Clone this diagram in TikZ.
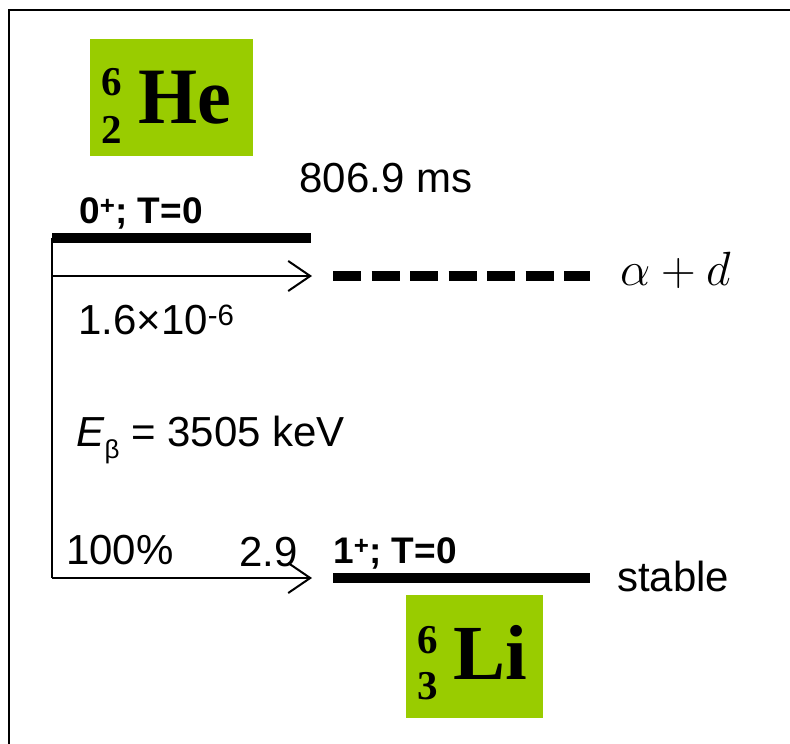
\documentclass[tikz,border=0pt]{standalone}
\usepackage{graphicx}
\usepackage{fontspec}
\setmainfont{Liberation Sans}
\newfontfamily\serifb{Liberation Serif}
\usetikzlibrary{arrows.meta}
\definecolor{nucgreen}{HTML}{99CC00}
\tikzset{
  level/.style={line width=9.5pt},
  thin/.style={line width=2pt},
  decay/.style={line width=2pt,-{Straight Barb[length=22pt,width=30pt,line width=2pt]}},
  txt/.style={inner sep=0pt,anchor=west,font=\fontsize{42}{46}\selectfont},
  btxt/.style={inner sep=0pt,anchor=west,font=\fontsize{37}{40}\selectfont\bfseries},
  nucbox/.style={fill=nucgreen,draw=none,inner sep=0pt},
  nucsym/.style={inner sep=0pt,anchor=base west,font=\fontsize{80}{80}\selectfont\serifb\bfseries},
  nucnum/.style={inner sep=0pt,font=\fontsize{41}{41}\selectfont\serifb\bfseries},
}
\begin{document}
\begin{tikzpicture}[x=1pt,y=-1pt]
\useasboundingbox (0,0) rectangle (790,744);
% frame
\draw[thin] (9,744) -- (9,10) -- (790,10);
% He box
\node[nucbox,minimum width=163pt,minimum height=117pt] (hebox) at (171.5,97.5) {};
\node[nucsym,xscale=0.95] (he) at (138,123) {He};
\node[nucnum] (he6) at (112,82) {6};
\node[nucnum] (he2) at (112,130) {2};
\node[txt,anchor=center] (life) at (386,178) {806.9 ms};
\node[btxt] (jtop) at (79,213) {0\textsuperscript{+}; T=0};
% levels
\coordinate (ltopL) at (52,238);
\coordinate (ltopR) at (311,238);
\draw[level] (ltopL) -- (ltopR);
\coordinate (a1s) at (52,276);
\coordinate (a1e) at (312,276);
\coordinate (a2s) at (52,578);
\coordinate (a2e) at (312,578);
\draw[thin] (ltopL) -- (a2s);
\draw[decay] (a1s) -- (a1e);
\draw[decay] (a2s) -- (a2e);
\coordinate (dL) at (333,276);
\coordinate (dR) at (590,276);
\draw[line width=10pt,dash pattern=on 28pt off 10.5pt] (dL) -- (dR);
\node[inner sep=0pt,anchor=west] (ad) at (620,270) {\scalebox{1.93}{\Huge$\alpha + d$}};
\node[txt] (br) at (78,320) {1.6×10\textsuperscript{-6}};
\node[txt] (eb) at (76,440) {\textit{E}\raisebox{-0.28em}{\fontsize{26}{26}\selectfont β} = 3505 keV};
\node[txt] (pc) at (66,550) {100\%};
\node[txt] (ft) at (239,552) {2.9};
\node[btxt] (jbot) at (333,553) {1\textsuperscript{+}; T=0};
\coordinate (lbL) at (333,578);
\coordinate (lbR) at (590,578);
\draw[level] (lbL) -- (lbR);
\node[txt] (st) at (617,576) {stable};
% Li box
\node[nucbox,minimum width=137pt,minimum height=123pt] (libox) at (474.5,656.5) {};
\node[nucsym,font=\fontsize{78}{78}\selectfont\serifb\bfseries] (li) at (453,679) {Li};
\node[nucnum] (li6) at (428,640) {6};
\node[nucnum] (li3) at (428,686) {3};
\end{tikzpicture}
\end{document}
